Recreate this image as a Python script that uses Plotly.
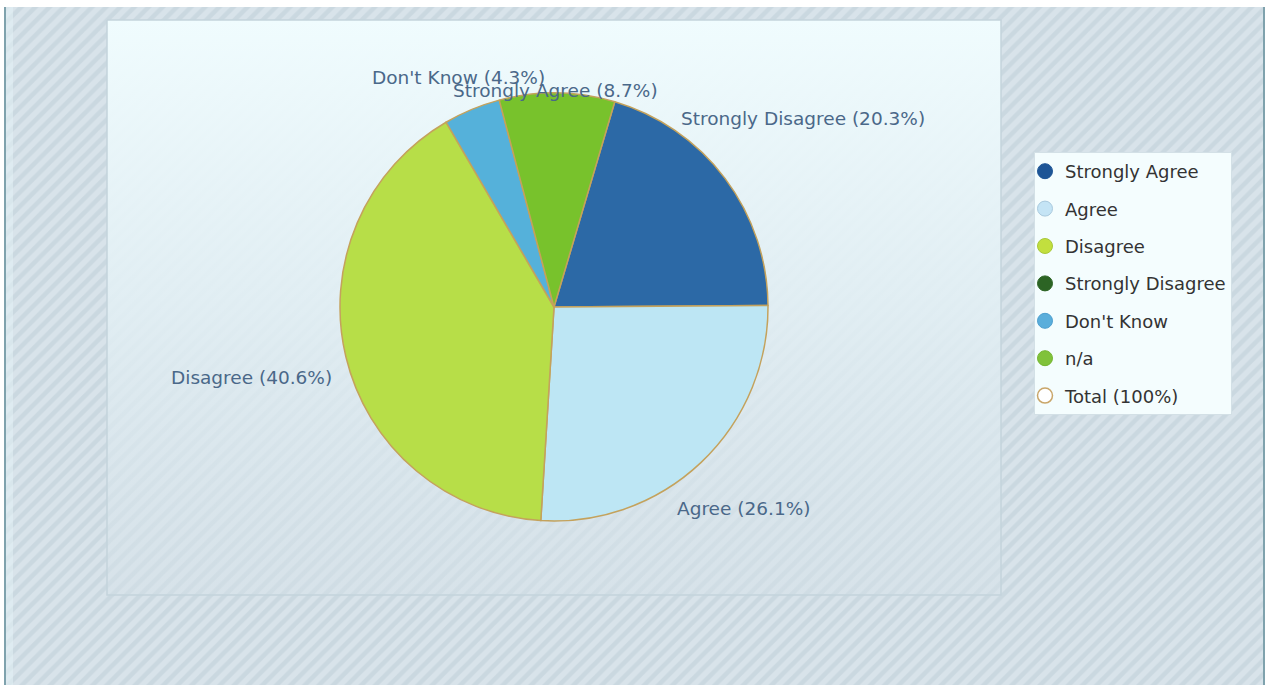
import plotly.graph_objects as go

# ---- data -------------------------------------------------------------
slice_labels = ["Strongly Disagree", "Agree", "Disagree", "Don't Know", "Strongly Agree"]
slice_values = [20.3, 26.1, 40.6, 4.3, 8.7]
slice_colors = ["#2c69a6", "#bde6f4", "#b7de48", "#55b1da", "#78c22c"]

legend_names = ["Strongly Agree", "Agree", "Disagree", "Strongly Disagree",
                "Don't Know", "n/a", "Total (100%)"]
legend_colors = ["#1d5596", "#c4e4f5", "#c2df3e", "#2c6424", "#5aaedb", "#80c23a", "#ffffff"]
legend_lines = ["#1d5596", "#a9c9dd", "#a8c83a", "#2c6424", "#4d9fcf", "#74b530", "#c9a66a"]

# label anchor positions in page pixels (left edge, vertical centre)
label_pos = {
    "Strongly Disagree": (679, 118),
    "Agree": (675, 508),
    "Disagree": (169, 377),
    "Don't Know": (370, 77),
    "Strongly Agree": (451, 90),
}

W, H = 1265, 685
FONT = "DejaVu Sans"


def py(v):
    """page pixel row -> data y (axis runs bottom-up)"""
    return H - v


fig = go.Figure()

# striped page background
bx0, bx1, by0, by1 = 6, 1263, 7, H
fig.add_trace(go.Scatter(
    x=[bx0, bx1, bx1, bx0, bx0], y=[py(by0), py(by0), py(by1), py(by1), py(by0)],
    mode="lines", line=dict(width=0), fill="toself",
    fillpattern=dict(shape="/", size=10, solidity=0.45,
                     bgcolor="#d8e3ea", fgcolor="#cad8e0", fillmode="replace"),
    hoverinfo="skip", showlegend=False))

# plot panel with vertical gradient
px0, px1, pt, pb = 107, 1001, 20, 595
fig.add_trace(go.Scatter(
    x=[px0, px1, px1, px0, px0], y=[py(pt), py(pt), py(pb), py(pb), py(pt)],
    mode="lines", line=dict(width=1.5, color="#c4d3dc"), fill="toself",
    fillgradient=dict(type="vertical",
                      colorscale=[[0, "rgba(214,226,233,0.45)"],
                                  [0.5, "rgba(226,239,244,0.9)"],
                                  [1, "rgba(240,252,254,1)"]],
                      start=py(pb), stop=py(pt)),
    hoverinfo="skip", showlegend=False))

# the pie
fig.add_trace(go.Pie(
    labels=slice_labels, values=slice_values, sort=False,
    direction="clockwise", rotation=16.5,
    marker=dict(colors=slice_colors, line=dict(color="#c4a25c", width=1.5)),
    textinfo="none", hoverinfo="label+percent",
    domain=dict(x=[340 / W, 768 / W], y=[1 - 521 / H, 1 - 93 / H]),
    showlegend=False))

# legend entries
for i, (n, c, lc) in enumerate(zip(legend_names, legend_colors, legend_lines)):
    fig.add_trace(go.Scatter(
        x=[None], y=[None], mode="markers", name=n, legendgroup=f"g{i}",
        marker=dict(size=15, color=c, line=dict(color=lc, width=1.5 if i == 6 else 1)),
        showlegend=True))

# slice labels
total = sum(slice_values)
annotations = []
for lab, val in zip(slice_labels, slice_values):
    lx, ly = label_pos[lab]
    annotations.append(dict(
        x=lx, y=py(ly), xref="x", yref="y", xanchor="left", yanchor="middle",
        text=f"{lab} ({val / total * 100:.1f}%)", showarrow=False,
        font=dict(family=FONT, size=18.5, color="#4a6889")))

shapes = [
    # page frame edges
    dict(type="line", xref="x", yref="y", x0=5, x1=5, y0=py(7), y1=py(H),
         line=dict(color="#7fa2ad", width=2)),
    dict(type="line", xref="x", yref="y", x0=1264, x1=1264, y0=py(7), y1=py(H),
         line=dict(color="#7fa2ad", width=2)),
    dict(type="rect", xref="x", yref="y", x0=6, x1=13, y0=py(7), y1=py(H),
         fillcolor="rgba(228,242,245,0.55)", line=dict(width=0), layer="above"),
]

fig.update_layout(
    width=W, height=H, margin=dict(l=0, r=0, t=0, b=0),
    paper_bgcolor="#ffffff", plot_bgcolor="rgba(0,0,0,0)",
    xaxis=dict(range=[0, W], visible=False, fixedrange=True, domain=[0, 1]),
    yaxis=dict(range=[0, H], visible=False, fixedrange=True, domain=[0, 1]),
    annotations=annotations, shapes=shapes,
    legend=dict(x=1034 / W, y=1 - 152 / H, xanchor="left", yanchor="top",
                bgcolor="#f4fdfe", bordercolor="#d3e0e6", borderwidth=1,
                font=dict(family=FONT, size=18, color="#333333"),
                tracegroupgap=11, indentation=-10, traceorder="grouped"),
    font=dict(family=FONT),
)

fig.write_html("out.html")
